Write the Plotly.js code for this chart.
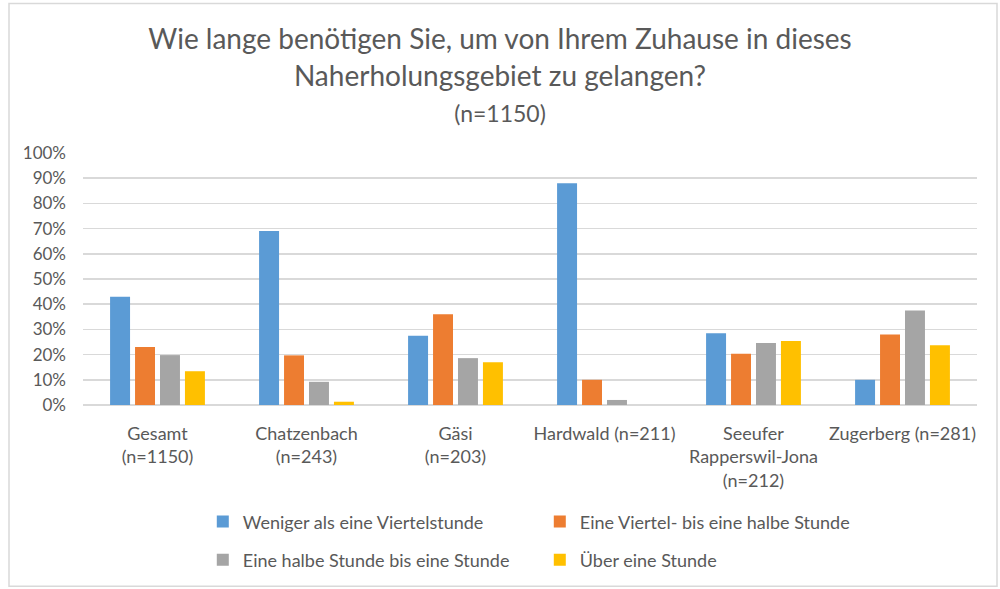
<!DOCTYPE html>
<html><head><meta charset="utf-8">
<script src="https://cdn.plot.ly/plotly-3.0.1.min.js"></script>
<style>html,body{margin:0;padding:0;background:#fff}#chart{width:1000px;height:589px}</style>
</head><body><div id="chart"></div>
<script>
const categories = ["Gesamt<br>(n=1150)", "Chatzenbach<br>(n=243)", "Gäsi<br>(n=203)", "Hardwald (n=211)", "Seeufer<br>Rapperswil-Jona<br>(n=212)", "Zugerberg (n=281)"];
const seriesNames = ["Weniger als eine Viertelstunde", "Eine Viertel- bis eine halbe Stunde", "Eine halbe Stunde bis eine Stunde", "Über eine Stunde"];
const weniger = [0.43, 0.69, 0.275, 0.88, 0.285, 0.10];
const viertelBisHalbe = [0.23, 0.197, 0.36, 0.10, 0.203, 0.28];
const halbeBisEine = [0.198, 0.092, 0.186, 0.02, 0.246, 0.375];
const ueberEine = [0.134, 0.013, 0.17, 0.0, 0.254, 0.237];
const colors = ["#5b9bd5", "#ed7d31", "#a5a5a5", "#ffc000"];
const seriesValues = [weniger, viertelBisHalbe, halbeBisEine, ueberEine];
const legendIds = ["legend", "legend", "legend2", "legend2"];

const traces = seriesValues.map((v, i) => ({
  type: "bar", name: seriesNames[i], x: categories, y: v,
  marker: {color: colors[i]}, hoverinfo: "skip", legend: legendIds[i]
}));

const font = "Lato, 'Open Sans', sans-serif";
const legendBase = {
  orientation: "h", x: 0.134, xanchor: "left", yanchor: "top",
  font: {family: font, size: 18, color: "#595959"},
  entrywidth: 292, entrywidthmode: "pixels", traceorder: "normal",
  itemwidth: 30, bgcolor: "rgba(0,0,0,0)"
};
const layout = {
  width: 1000, height: 589,
  margin: {l: 83, r: 23, t: 153, b: 183},
  paper_bgcolor: "#fff", plot_bgcolor: "#fff",
  font: {family: font, color: "#595959", size: 17},
  title: {
    text: "Wie lange benötigen Sie, um von Ihrem Zuhause in dieses<br>Naherholungsgebiet zu gelangen?<br><span style='font-size:23px'>(n=1150)</span>",
    font: {family: font, size: 28, color: "#595959"},
    x: 0.5, xanchor: "center", y: 0.916, yanchor: "top"
  },
  barmode: "group", bargap: 0.33, bargroupgap: 0.2,
  xaxis: {
    type: "category", showgrid: false, showline: false, ticks: "",
    ticklabelstandoff: 16,
    tickfont: {family: font, size: 18, color: "#595959"}, automargin: false
  },
  yaxis: {
    range: [0, 1.0], dtick: 0.1, tickformat: ".0%", showgrid: true,
    gridcolor: "#d9d9d9", gridwidth: 1.5, zeroline: true, zerolinecolor: "#d9d9d9", zerolinewidth: 1.5,
    showline: false, ticks: "", ticklabelstandoff: 16,
    tickfont: {family: font, size: 17, color: "#595959"}, automargin: false
  },
  showlegend: true,
  legend: Object.assign({}, legendBase, {y: -0.385}),
  legend2: Object.assign({}, legendBase, {y: -0.536}),
  shapes: [{
    type: "rect", xref: "paper", yref: "paper",
    x0: -74/894, x1: 1 + 20/894, y0: -182/253, y1: 1 + 150/253,
    line: {color: "#d9d9d9", width: 1.5}, fillcolor: "rgba(0,0,0,0)"
  }]
};
Plotly.newPlot("chart", traces, layout, {staticPlot: true});
</script></body></html>
